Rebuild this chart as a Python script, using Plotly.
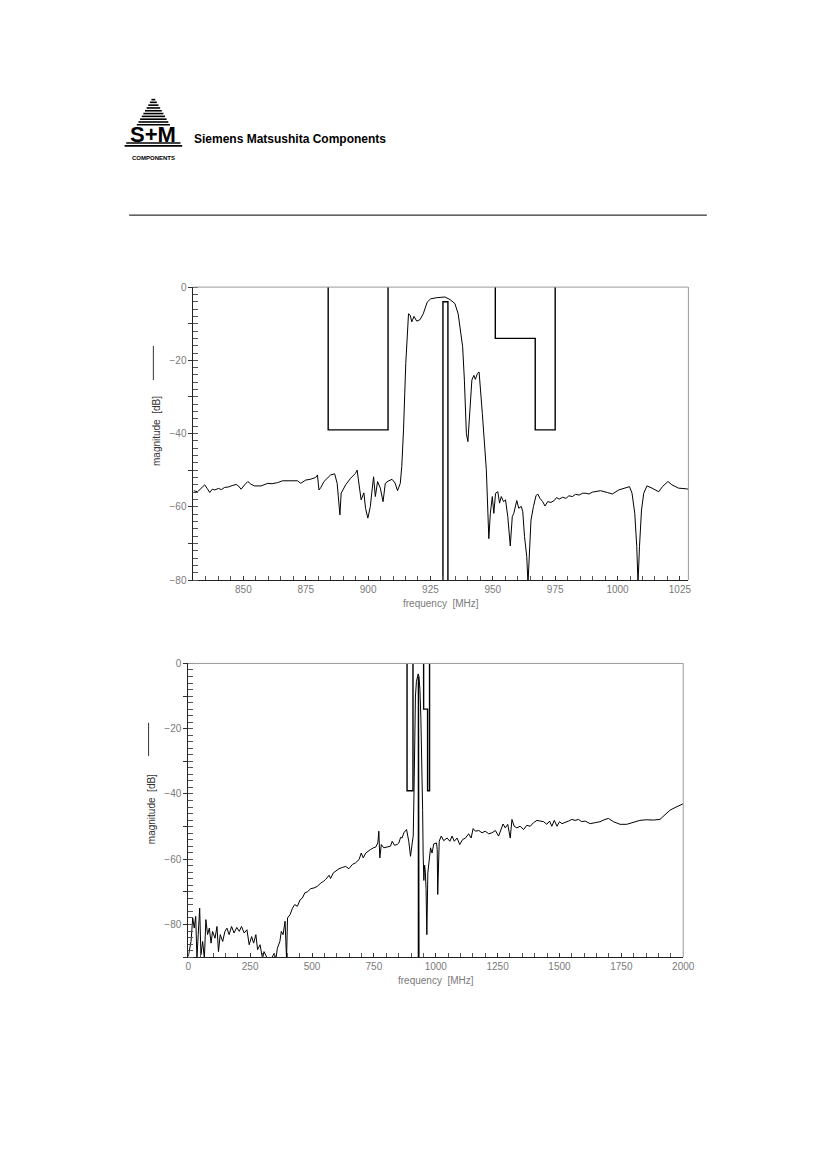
import plotly.graph_objects as go

# transfer function, detail 830..1028 MHz
f_detail = [830.0, 831.6, 833.0, 834.5, 835.5, 836.5, 837.5, 838.5, 840.0, 841.2,
            842.5, 844.0, 845.5, 847.1, 848.0, 849.1, 850.5, 851.8, 853.0, 854.4,
            857.1, 859.8, 861.5, 863.7, 865.7, 869.0, 871.7, 873.0, 875.0, 876.8,
            878.3, 879.0, 879.7, 880.3, 881.0, 882.3, 885.0, 886.6, 887.6, 888.7,
            889.2, 891.0, 893.0, 894.9, 895.6, 896.3, 897.2, 898.3, 899.0, 899.9,
            900.9, 901.5, 902.2, 902.9, 903.8, 904.9, 906.0, 906.9, 908.0, 909.6,
            910.8, 911.8, 912.9, 913.5, 914.2, 915.1, 916.2, 916.9, 917.5, 918.4,
            919.5, 920.8, 922.1, 923.7, 925.1, 927.5, 930.8, 932.8, 934.8, 936.1,
            937.9, 938.6, 939.4, 940.0, 940.8, 941.6, 942.4, 943.0, 943.8, 944.5,
            945.8, 947.4, 948.4, 949.0, 949.8, 950.4, 951.1, 952.0, 952.7, 953.4,
            954.3, 955.1, 956.0, 957.0, 957.8, 958.4, 959.6, 960.4, 961.4, 962.0,
            962.7, 963.6, 964.1, 964.7, 965.3, 966.3, 967.3, 968.0, 968.9, 970.0,
            970.9, 972.0, 973.3, 974.6, 975.5, 976.6, 978.0, 979.3, 980.5, 981.9,
            983.2, 984.6, 986.0, 987.3, 988.5, 989.9, 991.5, 993.2, 995.9, 997.9,
            1000.5, 1003.2, 1004.8, 1005.8, 1006.9, 1007.7, 1008.2, 1008.8, 1009.6, 1010.5,
            1011.8, 1013.8, 1016.5, 1018.0, 1020.2, 1021.8, 1024.4, 1027.7, 1028.5]
mag_detail = [-55.6, -55.9, -55.0, -54.0, -55.0, -56.1, -55.2, -55.4, -55.0, -55.3,
              -54.7, -54.6, -54.2, -53.9, -54.3, -55.2, -54.0, -53.1, -53.8, -54.3,
              -54.3, -53.6, -53.7, -53.4, -52.9, -52.9, -52.9, -53.6, -52.7, -52.5,
              -52.2, -52.0, -51.3, -55.4, -54.8, -53.1, -51.3, -51.0, -53.6, -62.2,
              -56.3, -54.0, -52.2, -50.9, -50.0, -53.6, -58.1, -56.2, -60.5, -63.1,
              -59.9, -56.0, -51.8, -57.2, -53.1, -54.9, -58.6, -53.6, -53.0, -52.5,
              -53.5, -55.6, -53.6, -49.0, -39.0, -20.9, -7.3, -7.7, -9.5, -8.0,
              -9.3, -8.9, -7.3, -4.1, -3.2, -2.9, -2.7, -3.4, -4.5, -7.3,
              -16.3, -25.4, -40.0, -42.2, -34.5, -25.4, -24.1, -25.2, -23.6, -23.2,
              -34.5, -49.9, -68.7, -61.8, -57.2, -61.8, -56.3, -55.9, -59.0, -57.2,
              -58.6, -58.1, -62.7, -70.7, -62.7, -61.8, -58.3, -60.4, -59.9, -61.3,
              -68.1, -73.6, -81.0, -69.5, -63.6, -59.9, -57.0, -56.5, -57.7, -58.6,
              -59.8, -58.6, -58.8, -58.3, -57.5, -57.9, -57.4, -57.7, -57.0, -57.2,
              -56.6, -56.8, -56.3, -56.3, -56.5, -56.0, -55.9, -55.6, -56.1, -56.5,
              -55.4, -54.7, -54.5, -56.3, -61.8, -70.8, -81.0, -70.8, -60.9, -56.3,
              -54.3, -54.9, -55.9, -54.5, -53.1, -54.0, -54.9, -55.1, -55.2]

# transfer function, wideband 0..2000 MHz
f_wide = [0, 11, 18, 24, 30, 35, 40, 46, 51, 58, 65, 71, 78, 85, 92, 98, 108, 116, 122, 129,
          139, 148, 156, 165, 175, 185, 196, 206, 215, 226, 237, 246, 256, 264, 273, 280, 290, 300, 306, 320,
          333, 347, 354, 360, 370, 376, 383, 391, 397, 401, 411, 421, 430, 441, 452, 461, 471, 481, 495, 508,
          522, 535, 546, 555, 569, 575, 586, 596, 609, 623, 636, 649, 663, 676, 690, 699, 707, 717, 726, 737,
          748, 757, 766, 770, 774, 780, 790, 804, 817, 824, 833, 844, 851, 858, 864, 871, 882, 891, 898, 905,
          909, 912, 915, 918, 922, 926, 929, 932, 936, 940, 944, 947, 949, 952, 955, 958, 961, 964, 968, 973,
          979, 985, 992, 1003, 1006, 1008, 1010, 1014, 1022, 1032, 1046, 1057, 1066, 1075, 1086, 1097, 1108, 1120, 1133, 1143,
          1151, 1160, 1174, 1187, 1200, 1214, 1227, 1241, 1254, 1261, 1272, 1281, 1291, 1301, 1308, 1317, 1328, 1341, 1355, 1368,
          1382, 1395, 1409, 1422, 1436, 1449, 1460, 1469, 1479, 1490, 1500, 1510, 1523, 1537, 1550, 1563, 1577, 1590, 1604, 1624,
          1644, 1664, 1684, 1698, 1718, 1745, 1772, 1798, 1825, 1852, 1879, 1906, 1926, 1946, 1966, 1987, 2000]
mag_wide = [-89.8, -85.2, -78.0, -81.1, -77.5, -90.5, -83.1, -75.0, -89.3, -85.2, -90.5, -78.5, -83.1, -81.1, -85.7, -82.1, -84.2, -80.6, -88.3, -83.1,
            -85.2, -82.1, -81.1, -83.1, -80.6, -82.6, -80.9, -82.1, -80.6, -82.6, -81.6, -86.2, -83.7, -85.7, -83.1, -87.7, -86.2, -90.5, -88.3, -90.5,
            -91.0, -88.8, -90.5, -87.3, -85.2, -82.1, -83.1, -79.0, -90.5, -78.0, -77.0, -75.0, -73.9, -74.4, -72.4, -71.9, -70.3, -70.0, -69.0, -68.8,
            -68.3, -67.3, -66.8, -66.2, -64.9, -65.9, -64.2, -63.7, -62.9, -62.5, -62.2, -62.9, -61.6, -61.1, -60.1, -58.1, -59.6, -58.1, -57.5, -57.0,
            -56.5, -56.3, -55.0, -51.4, -59.6, -55.5, -56.5, -56.3, -56.0, -54.5, -55.7, -55.5, -55.0, -53.3, -53.5, -51.9, -50.9, -54.5, -59.1, -55.0,
            -52.9, -40.0, -22.0, -10.0, -5.5, -3.8, -3.2, -4.0, -7.9, -17.0, -28.4, -45.0, -58.1, -66.5, -61.8, -64.0, -69.3, -83.1, -64.2, -59.6,
            -56.5, -58.1, -55.3, -55.0, -57.0, -70.8, -60.0, -54.5, -52.9, -54.3, -53.5, -54.5, -52.9, -54.5, -53.5, -55.5, -54.0, -53.5, -52.2, -53.5,
            -50.6, -51.4, -51.2, -51.9, -51.4, -52.2, -51.9, -51.2, -52.9, -51.4, -49.2, -50.4, -49.3, -53.5, -47.8, -49.9, -50.4, -49.9, -50.9, -49.6,
            -49.9, -48.8, -48.1, -48.3, -48.5, -49.3, -48.3, -49.9, -48.1, -49.9, -48.5, -49.1, -48.8, -48.3, -47.8, -48.1, -47.8, -48.5, -48.3, -49.1,
            -48.8, -48.5, -47.8, -47.5, -48.5, -49.3, -49.3, -48.8, -48.1, -47.9, -48.0, -47.8, -46.5, -45.0, -44.2, -43.4, -43.0]

# tolerance scheme, drawn in both panels
mask_lo_f = [884, 884, 908, 908]
mask_lo_db = [0, -39, -39, 0]
mask_pass_f = [930, 930, 932, 932]
mask_pass_db = [-100, -4, -4, -100]
mask_hi_f = [951, 951, 967, 967, 975, 975]
mask_hi_db = [0, -14, -14, -39, -39, 0]

# page size the layout was measured in; figure itself fills the browser window
W, H = 826, 1169


# page pixel -> paper fraction, with a small correction for how the page gets photographed
def px(x):
    return (x - 1.6) / 0.984 / W


def py(y):
    return 1 - (y - 5.9) / 0.989 / H


TICKFONT = dict(family="Liberation Sans", size=10, color="#7a7a7a")

fig = go.Figure()

for xa, ya, f, m in (("x", "y", f_detail, mag_detail), ("x2", "y2", f_wide, mag_wide)):
    fig.add_trace(go.Scatter(x=f, y=m, mode="lines", xaxis=xa, yaxis=ya,
                             line=dict(color="black", width=1)))
    for mf, md in ((mask_lo_f, mask_lo_db), (mask_pass_f, mask_pass_db), (mask_hi_f, mask_hi_db)):
        fig.add_trace(go.Scatter(x=mf, y=md, mode="lines", xaxis=xa, yaxis=ya,
                                 line=dict(color="black", width=1.4)))


def yaxis(dom, lo, anchor):
    vals = list(range(0, lo - 1, -10))
    return dict(domain=dom, range=[lo, 0], anchor=anchor, tickmode="array", tickvals=vals,
                ticktext=[str(v).replace("-", "\u2212") if v % 20 == 0 else "" for v in vals],
                ticks="outside", ticklen=4, tickcolor="#333", showline=True, linecolor="#222",
                linewidth=1, showgrid=False, zeroline=False, tickfont=TICKFONT,
                minor=dict(tickmode="linear", tick0=0, dtick=2, ticks="inside", ticklen=5,
                           tickcolor="#555", showgrid=False))


def xaxis(dom, rng, dt, mdt, anchor):
    return dict(domain=dom, range=rng, anchor=anchor, tick0=0, dtick=dt, ticks="inside",
                ticklen=4, tickcolor="#333", showline=True, linecolor="#222", linewidth=1,
                showgrid=False, zeroline=False, tickfont=TICKFONT,
                minor=dict(tick0=0, dtick=mdt, ticks="inside", ticklen=4, tickcolor="#555",
                           showgrid=False))


fig.update_layout(
    autosize=True, margin=dict(l=0, r=0, t=0, b=0),
    paper_bgcolor="white", plot_bgcolor="white", showlegend=False,
    xaxis=xaxis([px(192.5), px(688.5)], [830, 1028.4], 25, 5, "y"),
    yaxis=yaxis([py(579.5), py(287.3)], -80, "x"),
    xaxis2=xaxis([px(187.3), px(683.3)], [0, 2000], 250, 50, "y2"),
    yaxis2=yaxis([py(955.7), py(662.7)], -90, "x2"),
)


def label(text, x, y, size, color="black", angle=0, xanchor="center"):
    fig.add_annotation(text=text, xref="paper", yref="paper", x=px(x), y=py(y),
                       xanchor=xanchor, yanchor="middle", textangle=angle, showarrow=False,
                       font=dict(family="Liberation Sans", size=size, color=color))


# gray top/right frame edges
for xr, yr in (("x domain", "y domain"), ("x2 domain", "y2 domain")):
    fig.add_shape(type="line", xref=xr, yref=yr, x0=0, x1=1, y0=1, y1=1,
                  line=dict(color="#999", width=1))
    fig.add_shape(type="line", xref=xr, yref=yr, x0=1, x1=1, y0=0, y1=1,
                  line=dict(color="#999", width=1))

# axis titles + the little legend stroke next to the y title
for xc, yc, ty, lx, ly0, ly1 in ((440.5, 431, 603, 152.3, 346, 380),
                                 (435.3, 808, 979, 147.5, 722, 755)):
    label("frequency  [MHz]", xc, ty, 10, "#7a7a7a")
    label("magnitude  [dB]", lx + 2.5, yc, 10, "#333", angle=-90)
    fig.add_shape(type="line", xref="paper", yref="paper", x0=px(lx), x1=px(lx),
                  y0=py(ly0), y1=py(ly1), line=dict(color="#333", width=1))

# page header: logo, company name, rule
ax, ay, base = 152.3, 97.0, 145.5
slope = 28.3 / (base - ay)
for sy in (100.3, 103.0, 105.8, 108.6, 111.4, 114.2, 117.0, 119.8, 122.6, 125.4, 143.6, 146.4):
    hw = slope * (sy - ay)
    fig.add_shape(type="line", xref="paper", yref="paper", x0=px(ax - hw), x1=px(ax + hw),
                  y0=py(sy), y1=py(sy), line=dict(color="black", width=1.6))
label("<b>S+M</b>", 152, 135, 22)
label("<b>COMPONENTS</b>", 152, 158.5, 6)
label("<b>Siemens Matsushita Components</b>", 191, 140, 12, xanchor="left")
fig.add_shape(type="line", xref="paper", yref="paper", x0=px(128), x1=px(707),
              y0=py(215.5), y1=py(215.5), line=dict(color="black", width=1))

# figure fills the window exactly, no body margin, no modebar
fig.write_html("out.html", default_width="100vw", default_height="100vh",
               config={"displayModeBar": False, "responsive": True},
               post_script="document.body.style.margin='0';document.body.style.overflow='hidden';")
